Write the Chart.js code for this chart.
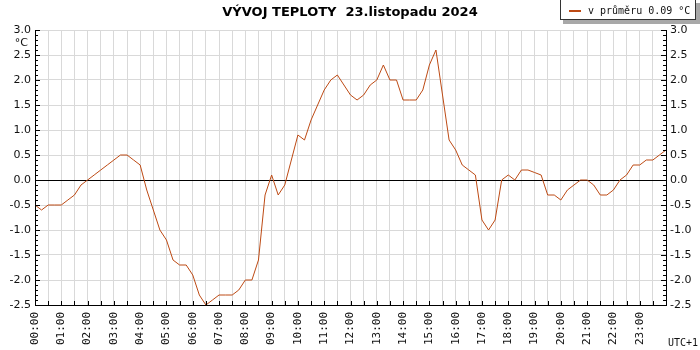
<!DOCTYPE html>
<html>
<head>
<meta charset="utf-8">
<script src="https://cdn.jsdelivr.net/npm/chart.js@4/dist/chart.umd.min.js"></script>
<style>
  html, body { margin: 0; padding: 0; background: #ffffff; }
  #wrap { position: relative; width: 700px; height: 350px; }
</style>
</head>
<body>
<div id="wrap"><canvas id="c" width="700" height="350"></canvas></div>
<script>
// time of each reading, in hours (15-minute steps)
const times = [
  0, 0.25, 0.5, 0.75, 1, 1.25, 1.5, 1.75, 2, 2.25, 2.5, 2.75,
  3, 3.25, 3.5, 3.75, 4, 4.25, 4.5, 4.75, 5, 5.25, 5.5, 5.75,
  6, 6.25, 6.5, 6.75, 7, 7.25, 7.5, 7.75, 8, 8.25, 8.5, 8.75,
  9, 9.25, 9.5, 9.75, 10, 10.25, 10.5, 10.75, 11, 11.25, 11.5, 11.75,
  12, 12.25, 12.5, 12.75, 13, 13.25, 13.5, 13.75, 14, 14.25, 14.5, 14.75,
  15, 15.25, 15.5, 15.75, 16, 16.25, 16.5, 16.75, 17, 17.25, 17.5, 17.75,
  18, 18.25, 18.5, 18.75, 19, 19.25, 19.5, 19.75, 20, 20.25, 20.5, 20.75,
  21, 21.25, 21.5, 21.75, 22, 22.25, 22.5, 22.75, 23, 23.25, 23.5, 23.75, 24
];
// temperature in °C
const temps = [
  -0.5, -0.6, -0.5, -0.5, -0.5, -0.4, -0.3, -0.1, 0.0, 0.1, 0.2, 0.3,
  0.4, 0.5, 0.5, 0.4, 0.3, -0.2, -0.6, -1.0, -1.2, -1.6, -1.7, -1.7,
  -1.9, -2.3, -2.5, -2.4, -2.3, -2.3, -2.3, -2.2, -2.0, -2.0, -1.6, -0.3,
  0.1, -0.3, -0.1, 0.4, 0.9, 0.8, 1.2, 1.5, 1.8, 2.0, 2.1, 1.9,
  1.7, 1.6, 1.7, 1.9, 2.0, 2.3, 2.0, 2.0, 1.6, 1.6, 1.6, 1.8,
  2.3, 2.6, 1.7, 0.8, 0.6, 0.3, 0.2, 0.1, -0.8, -1.0, -0.8, 0.0,
  0.1, 0.0, 0.2, 0.2, 0.15, 0.1, -0.3, -0.3, -0.4, -0.2, -0.1, 0.0,
  0.0, -0.1, -0.3, -0.3, -0.2, 0.0, 0.1, 0.3, 0.3, 0.4, 0.4, 0.5, 0.6
];
const hourLabels = ['00:00','01:00','02:00','03:00','04:00','05:00','06:00','07:00',
  '08:00','09:00','10:00','11:00','12:00','13:00','14:00','15:00',
  '16:00','17:00','18:00','19:00','20:00','21:00','22:00','23:00'];
const yMin = -2.5, yMax = 3.0;
const titleText = 'VÝVOJ TEPLOTY  23.listopadu 2024';
const legendText = 'v průměru 0.09 °C';
const unitText = '°C';
const zoneText = 'UTC+1';

const lineColor = '#bd4a14';

const points = times.map((t, i) => ({ x: t, y: temps[i] }));

const decor = {
  id: 'decor',
  afterDraw(chart) {
    const ctx = chart.ctx;
    const xs = chart.scales.x, ys = chart.scales.y;
    const area = chart.chartArea;
    ctx.save();
    // inward ticks on y axes
    ctx.strokeStyle = '#000';
    ctx.lineWidth = 1;
    ctx.beginPath();
    for (let k = Math.round(yMin * 10); k <= Math.round(yMax * 10); k++) {
      const v = k / 10;
      const y = Math.round(ys.getPixelForValue(v)) + 0.5;
      const len = (k % 5 === 0) ? 5 : 3;
      ctx.moveTo(area.left, y); ctx.lineTo(area.left + len, y);
      ctx.moveTo(area.right, y); ctx.lineTo(area.right - len, y);
    }
    // inward ticks on x axis (every half hour)
    for (let k = 0; k <= 48; k++) {
      const x = Math.round(xs.getPixelForValue(k / 2)) + 0.5;
      ctx.moveTo(x, area.bottom); ctx.lineTo(x, area.bottom - 4);
    }
    ctx.stroke();

    // title
    ctx.fillStyle = '#000';
    ctx.font = 'bold 13px "DejaVu Sans"';
    ctx.textAlign = 'center';
    ctx.textBaseline = 'middle';
    ctx.fillText(titleText, 350, 13);

    // unit under top label
    ctx.font = '11px "DejaVu Sans"';
    ctx.textAlign = 'right';
    ctx.fillStyle = '#111';
    ctx.fillText(unitText, 28, 43);

    // time zone
    ctx.font = '10px "DejaVu Sans Mono"';
    ctx.textAlign = 'left';
    ctx.fillText(zoneText, 668, 343);

    // legend box
    ctx.fillStyle = '#a8a8a8';
    ctx.fillRect(563, 3, 137, 21);
    ctx.fillStyle = '#ffffff';
    ctx.fillRect(560, 0, 136, 20);
    ctx.strokeStyle = '#333';
    ctx.strokeRect(560.5, -0.5, 135, 20);
    ctx.strokeStyle = lineColor;
    ctx.lineWidth = 2;
    ctx.beginPath();
    ctx.moveTo(569, 11); ctx.lineTo(581, 11);
    ctx.stroke();
    ctx.fillStyle = '#111';
    ctx.font = '10px "DejaVu Sans Mono"';
    ctx.textAlign = 'left';
    ctx.textBaseline = 'middle';
    ctx.fillText(legendText, 588, 11);
    ctx.restore();
  }
};

new Chart(document.getElementById('c'), {
  type: 'line',
  data: {
    datasets: [{
      data: points,
      borderColor: lineColor,
      borderWidth: 1,
      pointRadius: 0,
      tension: 0,
      fill: false,
      clip: 3
    }]
  },
  options: {
    responsive: false,
    animation: false,
    devicePixelRatio: 1,
    layout: { padding: { top: 30, left: 0, right: 0, bottom: 0 } },
    plugins: { legend: { display: false }, title: { display: false }, tooltip: { enabled: false } },
    scales: {
      x: {
        type: 'linear',
        min: 0, max: 24,
        afterFit(s) { s.height = 45; },
        afterBuildTicks(s) {
          const arr = [];
          for (let k = 0; k <= 48; k++) arr.push({ value: k / 2 });
          s.ticks = arr;
        },
        ticks: {
          autoSkip: false,
          minRotation: 90, maxRotation: 90,
          padding: 7,
          color: '#111',
          font: { family: '"DejaVu Sans Mono"', size: 11 },
          callback(v) {
            return (Number.isInteger(v) && v < 24) ? hourLabels[v] : '';
          }
        },
        grid: { color: '#d9d9d9', lineWidth: 1, drawTicks: false },
        border: { display: true, color: '#000', width: 1 }
      },
      y: {
        position: 'left',
        min: yMin, max: yMax,
        afterFit(s) { s.width = 35; },
        ticks: {
          stepSize: 0.5,
          padding: 4,
          color: '#111',
          font: { family: '"DejaVu Sans"', size: 11 },
          callback(v) { return v.toFixed(1); }
        },
        grid: {
          drawTicks: false,
          color(c) { return c.tick && Math.abs(c.tick.value) < 1e-9 ? '#000' : '#d9d9d9'; },
          lineWidth: 1
        },
        border: { display: true, color: '#000', width: 1 }
      },
      y2: {
        position: 'right',
        min: yMin, max: yMax,
        afterFit(s) { s.width = 34; },
        ticks: {
          stepSize: 0.5,
          padding: 4,
          color: '#111',
          font: { family: '"DejaVu Sans"', size: 11 },
          callback(v) { return v.toFixed(1); }
        },
        grid: { display: false, drawTicks: false },
        border: { display: true, color: '#000', width: 1 }
      }
    }
  },
  plugins: [decor]
});
</script>
</body>
</html>
